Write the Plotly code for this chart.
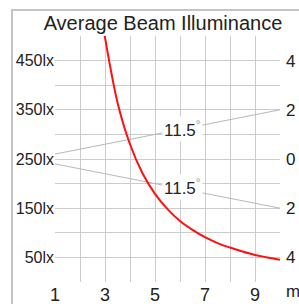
import plotly.graph_objects as go

# Data
distance_m = [2.97, 3.0, 3.5, 4.0, 4.5, 5.0, 5.5, 6.0, 6.5, 7.0, 7.5, 8.0, 8.5, 9.0, 9.5, 10.0]
illuminance_lx = [506, 497, 365, 280, 221, 179, 148, 124, 106, 91, 79, 70, 62, 55, 50, 45]

beam_upper_x = [1, 10]
beam_upper_y = [260, 350]
beam_lower_x = [1, 10]
beam_lower_y = [240, 150]
beam_angle_label = "11.5"

y_grid_vals = [0, 50, 100, 150, 200, 250, 300, 350, 400, 450]
y_grid_text = ["", "50lx", "", "150lx", "", "250lx", "", "350lx", "", "450lx"]
x_grid_vals = [1, 2, 3, 4, 5, 6, 7, 8, 9, 10]
x_grid_text = ["1", "", "3", "", "5", "", "7", "", "9", ""]
right_vals = [450, 350, 250, 150, 50]
right_text = ["4", "2", "0", "2", "4"]

fig = go.Figure()
fig.add_trace(go.Scatter(x=beam_upper_x, y=beam_upper_y, mode="lines",
                         line=dict(color="#b8b8b8", width=1), hoverinfo="skip"))
fig.add_trace(go.Scatter(x=beam_lower_x, y=beam_lower_y, mode="lines",
                         line=dict(color="#b8b8b8", width=1), hoverinfo="skip"))
fig.add_trace(go.Scatter(x=distance_m, y=illuminance_lx, mode="lines",
                         line=dict(color="#ff1010", width=2, shape="spline"),
                         cliponaxis=True))
fig.add_trace(go.Scatter(x=[None], y=[None], yaxis="y2", showlegend=False))

for ypos in [311, 193]:
    fig.add_annotation(x=6.1, y=ypos, xref="x", yref="y",
                       text=beam_angle_label + "<sup><span style='color:#999'>°</span></sup>",
                       showarrow=False, bgcolor="white", borderpad=1,
                       font=dict(size=17, color="#222"))

fig.add_annotation(x=1.016, y=0.008, xref="paper", yref="paper", text="m",
                   showarrow=False, xanchor="left", yanchor="top",
                   font=dict(size=17, color="#222"))

fig.add_shape(type="rect", xref="paper", yref="paper",
              x0=-0.191, x1=1.2, y0=-0.2, y1=1.106,
              line=dict(color="#c4c4c4", width=2), layer="above")

fig.update_layout(
    width=299, height=304,
    margin=dict(l=55, r=19, t=36, b=22),
    paper_bgcolor="white", plot_bgcolor="white",
    showlegend=False,
    font=dict(family="Liberation Sans, Arial, sans-serif", color="#222"),
    title=dict(text="Average Beam Illuminance", x=0.545, xanchor="center",
               y=0.925, yanchor="middle", font=dict(size=20, color="#222")),
    xaxis=dict(range=[1, 10], tickvals=x_grid_vals, ticktext=x_grid_text,
               showgrid=True, gridcolor="#cccccc", gridwidth=1,
               zeroline=False, showline=False, ticks="", automargin=False,
               tickfont=dict(size=18, color="#222"), fixedrange=True),
    yaxis=dict(range=[0, 500], tickvals=y_grid_vals, ticktext=y_grid_text,
               showgrid=True, gridcolor="#cccccc", gridwidth=1,
               zeroline=False, showline=False, ticks="", automargin=False,
               tickfont=dict(size=16, color="#222"), fixedrange=True),
    yaxis2=dict(range=[0, 500], overlaying="y", side="right",
                tickvals=right_vals, ticktext=right_text, showgrid=False,
                zeroline=False, showline=False, ticks="", automargin=False,
                ticklabelstandoff=5,
                tickfont=dict(size=17, color="#222"), fixedrange=True),
)

fig.write_html("out.html", config={"displayModeBar": False},
               post_script="document.body.style.margin='0';document.body.style.overflow='hidden';")
